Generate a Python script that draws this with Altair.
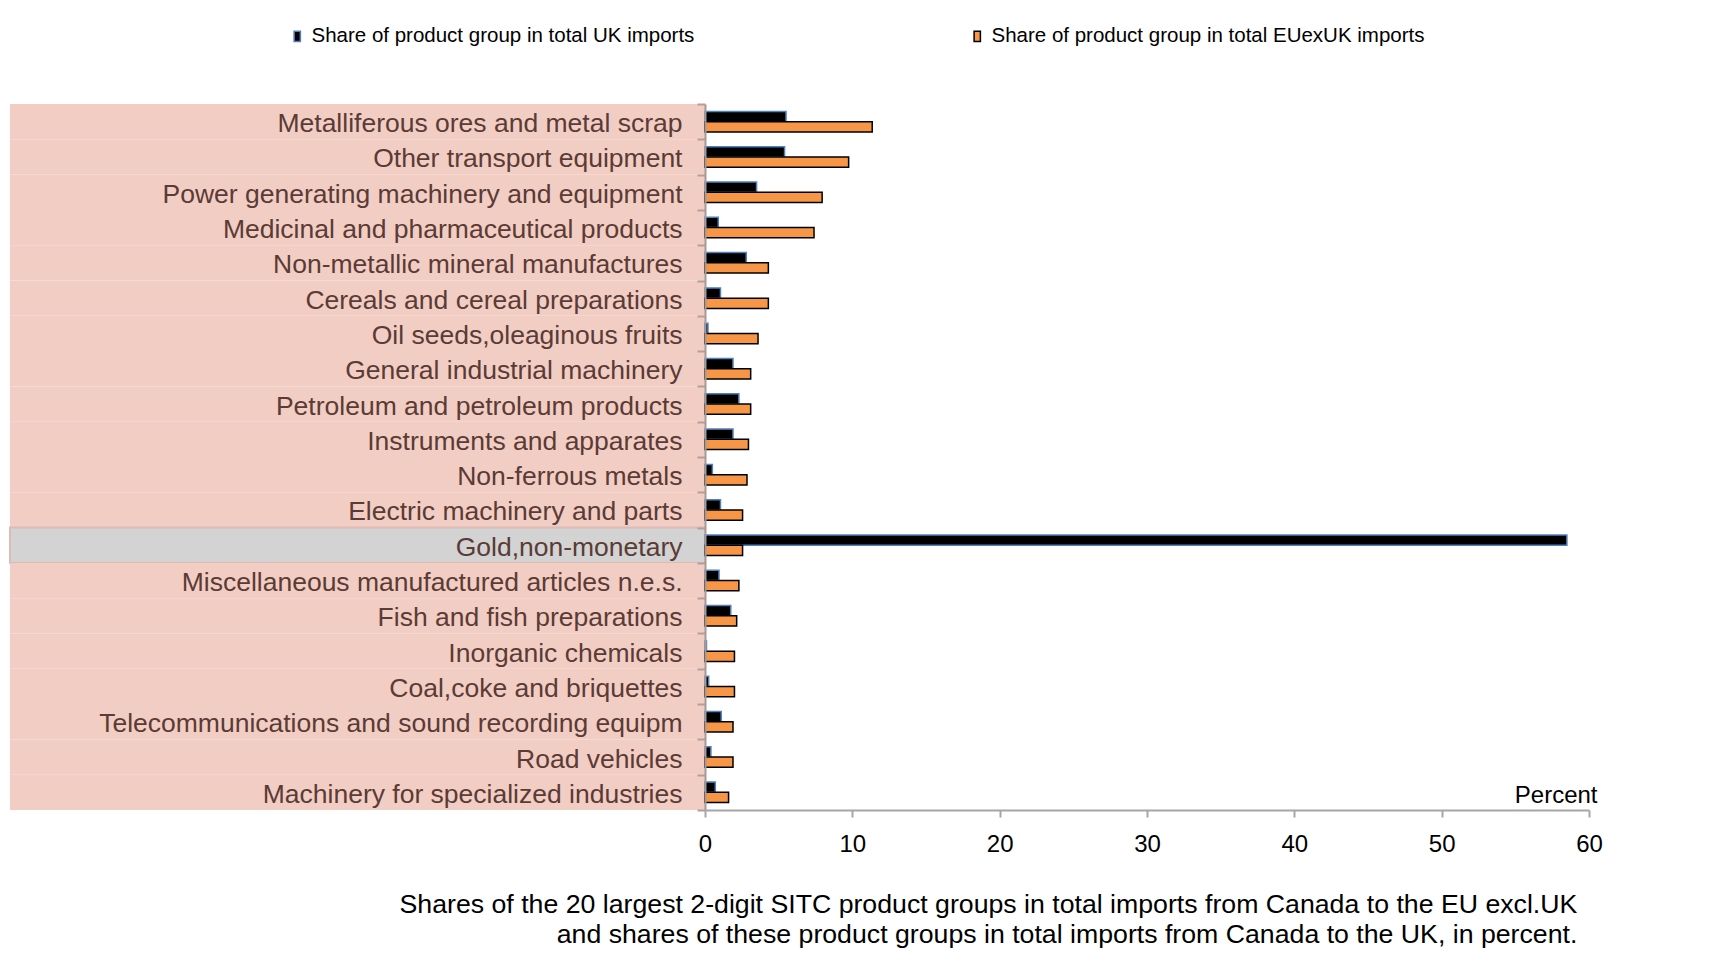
import altair as alt
import pandas as pd

categories = [
    "Metalliferous ores and metal scrap",
    "Other transport equipment",
    "Power generating machinery and equipment",
    "Medicinal and pharmaceutical products",
    "Non-metallic mineral manufactures",
    "Cereals and cereal preparations",
    "Oil seeds,oleaginous fruits",
    "General industrial machinery",
    "Petroleum and petroleum products",
    "Instruments and apparates",
    "Non-ferrous metals",
    "Electric machinery and parts",
    "Gold,non-monetary",
    "Miscellaneous manufactured articles n.e.s.",
    "Fish and fish preparations",
    "Inorganic chemicals",
    "Coal,coke and briquettes",
    "Telecommunications and sound recording equipm",
    "Road vehicles",
    "Machinery for specialized industries",
]
uk_share = [5.5, 5.4, 3.5, 0.9, 2.8, 1.05, 0.2, 1.9, 2.3, 1.9,
            0.5, 1.05, 58.5, 0.95, 1.75, 0.1, 0.25, 1.1, 0.4, 0.7]
eu_share = [11.35, 9.75, 7.95, 7.4, 4.3, 4.3, 3.6, 3.1, 3.1, 2.95,
            2.85, 2.55, 2.55, 2.3, 2.15, 2.0, 2.0, 1.9, 1.9, 1.6]
series_names = ["Share of product group in total UK imports",
                "Share of product group in total EUexUK imports"]
highlight = "Gold,non-monetary"
x_ticks = [0, 10, 20, 30, 40, 50, 60]
caption = ["Shares of the 20 largest 2-digit SITC product groups in total imports from Canada to the EU excl.UK",
           "and shares of these product groups in total imports from Canada to the UK, in percent."]

rows = []
for c, u, e in zip(categories, uk_share, eu_share):
    rows.append({"cat": c, "series": series_names[0], "value": u})
    rows.append({"cat": c, "series": series_names[1], "value": e})
bars_df = pd.DataFrame(rows)
bg_df = pd.DataFrame({"cat": categories})

FONT = "Liberation Sans"

background = alt.Chart(bg_df).mark_rect().encode(
    y=alt.Y("cat:N", sort=categories,
            scale=alt.Scale(paddingInner=0, paddingOuter=0),
            axis=alt.Axis(title=None, orient="left", labelFontSize=26.5,
                          labelColor="#5a3b35", labelFont=FONT,
                          labelPadding=15, labelLimit=700, labelOffset=2,
                          tickBand="extent", tickSize=8, tickColor="#b59e99",
                          tickWidth=2, domainColor="#a69a98", domainWidth=2)),
    x=alt.value(-695),
    x2=alt.value(0),
    fill=alt.condition(alt.datum.cat == highlight, alt.value("#d3d3d3"), alt.value("#f2cdc4")),
    stroke=alt.condition(alt.datum.cat == highlight, alt.value("#dcbcb5"), alt.value("transparent")),
    strokeWidth=alt.value(2),
)

legend_kw = dict(
    title=None, orient="none", legendX=-418, legendY=-78, direction="horizontal",
    columnPadding=272, labelFontSize=20.5, labelFont=FONT, labelColor="#000000",
    labelLimit=600, symbolType="M-0.6,-1H0.6V1H-0.6Z", symbolSize=110,
    symbolStrokeWidth=1.5, labelOffset=4,
)

bars = alt.Chart(bars_df).mark_bar(strokeWidth=1.5).encode(
    y=alt.Y("cat:N", sort=categories,
            scale=alt.Scale(paddingInner=0.42, paddingOuter=0.21), axis=None),
    yOffset=alt.YOffset("series:N", sort=series_names),
    x=alt.X("value:Q", scale=alt.Scale(domain=[0, 60], nice=False),
            axis=alt.Axis(values=x_ticks, title="Percent", grid=False,
                          labelFlush=False, labelOverlap=False,
                          labelFontSize=24, labelFont=FONT, labelColor="#000000",
                          labelPadding=15, tickSize=7, tickColor="#a6a6a6", tickWidth=2,
                          domainColor="#a6a6a6", domainWidth=2,
                          titleFontSize=24, titleFont=FONT, titleFontWeight="normal",
                          titleColor="#000000", titleX=892, titleY=-8,
                          titleAlign="right", titleBaseline="alphabetic")),
    fill=alt.Fill("series:N", sort=series_names,
                  scale=alt.Scale(domain=series_names, range=["#000000", "#f79646"]),
                  legend=alt.Legend(**legend_kw)),
    stroke=alt.Stroke("series:N", sort=series_names,
                      scale=alt.Scale(domain=series_names, range=["#4f81bd", "#000000"]),
                      legend=alt.Legend(**legend_kw)),
)

chart = alt.layer(background, bars).resolve_scale(y="independent").properties(
    width=884,
    height=706,
    autosize=alt.AutoSizeParams(type="none"),
    padding={"left": 697, "top": 96, "right": 100, "bottom": 150},
    title=alt.TitleParams(text=caption, orient="bottom", anchor="end",
                          fontSize=26.7, font=FONT, fontWeight="normal",
                          color="#000000", offset=36, dx=-25, lineHeight=30),
).configure(font=FONT, view=alt.ViewConfig(strokeWidth=0, stroke="transparent"))

chart.save("out.html", embed_options={"renderer": "svg", "actions": False})
